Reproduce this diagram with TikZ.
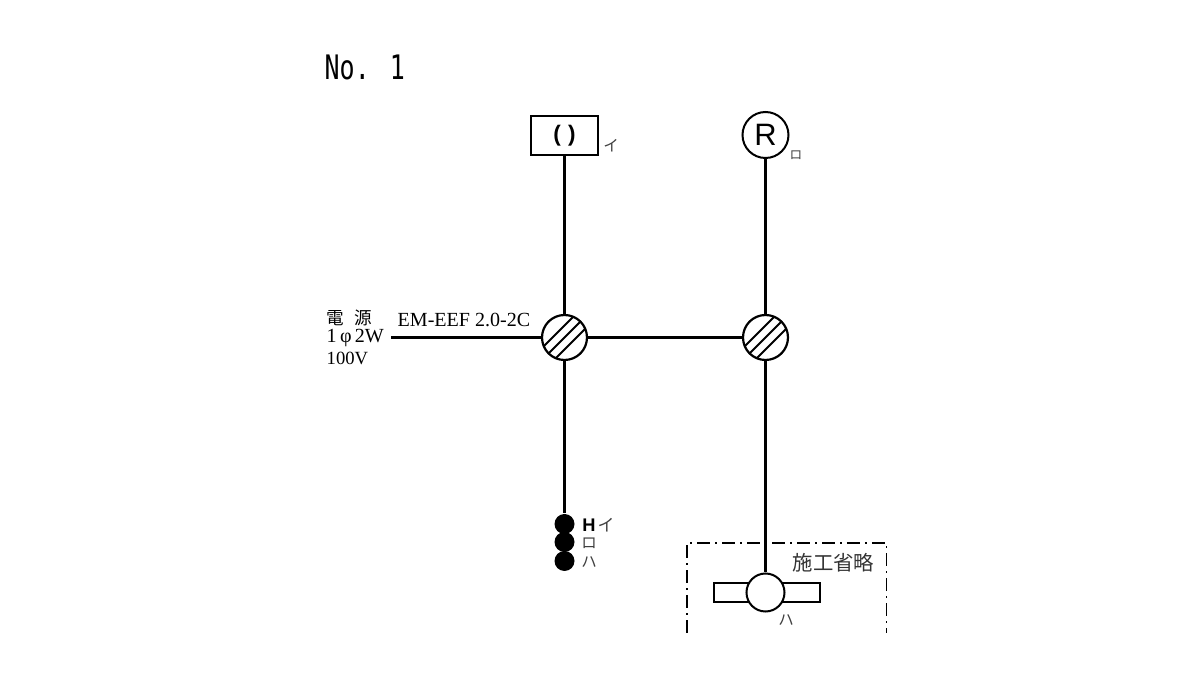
\documentclass[tikz,border=0pt]{standalone}
\usepackage{fontspec}
\setmainfont{Liberation Serif}
\setsansfont{Liberation Sans}
\newfontfamily\cjk{Noto Sans CJK JP}
\newfontfamily\numfont[FakeStretch=0.74]{DejaVu Sans Mono}
\tikzset{
    wire/.style={line width=0.38mm},
    lbl/.style={inner sep=0pt, font=\fontsize{5.7}{6}\selectfont},
    kana/.style={inner sep=0pt, text=black!75, font=\cjk\fontsize{4.4}{5}\selectfont},
    jbox/.style={circle, draw, fill=white, line width=0.22mm, minimum size=0.45cm, inner sep=0pt,
        path picture={
            \foreach \d in {-0.06, 0, 0.06} {
                \draw[line width=0.21mm] ([shift={(\d, -\d)}]path picture bounding box.center) ++(-0.3, -0.3) -- ++(0.6, 0.6);
            }
        }},
}

\begin{document}
\begin{tikzpicture}
        \useasboundingbox (0, 0) rectangle (12, 6.75);
        \node[inner sep=0pt, anchor=west, font=\numfont\fontsize{9.6}{12}\selectfont] (title) at (3.24, 6.08) {No. 1};

        \node[jbox] (jleft) at (5.645, 3.375) {};
        \node[jbox] (jright) at (7.655, 3.375) {};

        % fixtures
        \node[draw, fill=white, line width=0.17mm, minimum width=0.67cm, minimum height=0.39cm, inner sep=0pt, font=\sffamily\bfseries\fontsize{6.4}{7}\selectfont] (wall) at (5.645, 5.395) {\raisebox{-0.3pt}{(\,\,)}};
        \node[circle, draw, fill=white, line width=0.2mm, minimum size=0.46cm, inner sep=0pt, font=\sffamily\fontsize{8.8}{10}\selectfont] (rlamp) at (7.655, 5.40) {R};
        \node[draw, fill=white, line width=0.17mm, minimum width=1.06cm, minimum height=0.19cm, inner sep=0pt] (bar) at (7.67, 0.825) {};
        \node[circle, draw, fill=white, line width=0.2mm, minimum size=0.38cm, inner sep=0pt] (lamp) at (7.655, 0.825) {};

        % switches
        \node[circle, fill=black, minimum size=0.2cm, inner sep=0pt] (swa) at (5.645, 1.51) {};
        \node[circle, fill=black, minimum size=0.2cm, inner sep=0pt] (swb) at (5.645, 1.33) {};
        \node[circle, fill=black, minimum size=0.2cm, inner sep=0pt] (swc) at (5.645, 1.14) {};

        % wires
        \coordinate (feed) at (3.91, 3.375);
        \draw[wire] (feed) -- (jleft);
        \draw[wire] (jleft) -- (jright);
        \draw[wire] (wall) -- (jleft);
        \draw[wire] (jleft) -- (swa);
        \draw[wire] (rlamp) -- (jright);
        \draw[wire] (jright) -- (lamp);

        % omitted area
        \draw[line width=0.11mm, dash pattern=on 1.3mm off 0.5mm on 0.2mm off 0.5mm] (6.87, 0.42) -- (6.87, 1.32) -- (8.865, 1.32) -- (8.865, 0.42);

        \node[lbl, anchor=west] (cable) at (3.97, 3.55) {EM-EEF 2.0-2C};
        \node[inner sep=0pt, anchor=west, font=\cjk\fontsize{5}{6}\selectfont] (src) at (3.26, 3.57) {電\hspace{2.8pt}源};
        \node[lbl, anchor=west] (phase) at (3.26, 3.37) {1\,φ\,2W};
        \node[lbl, anchor=west, font=\fontsize{5.3}{6}\selectfont] (volt) at (3.26, 3.17) {100V};

        \node[kana] (ka) at (6.11, 5.29) {イ};
        \node[kana, font=\cjk\fontsize{3.6}{4}\selectfont] (kb) at (7.96, 5.20) {ロ};
        \node[inner sep=0pt, font=\sffamily\bfseries\fontsize{5.2}{6}\selectfont] (hmark) at (5.89, 1.495) {H};
        \node[kana, font=\cjk\fontsize{4.8}{5}\selectfont] (kc) at (6.06, 1.50) {イ};
        \node[kana] (kd) at (5.89, 1.32) {ロ};
        \node[kana] (ke) at (5.89, 1.13) {ハ};
        \node[kana] (kf) at (7.86, 0.55) {ハ};
        \node[inner sep=0pt, text=black!80, font=\cjk\fontsize{5.8}{6}\selectfont] (omit) at (8.335, 1.12) {施工省略};
    \end{tikzpicture}
\end{document}
